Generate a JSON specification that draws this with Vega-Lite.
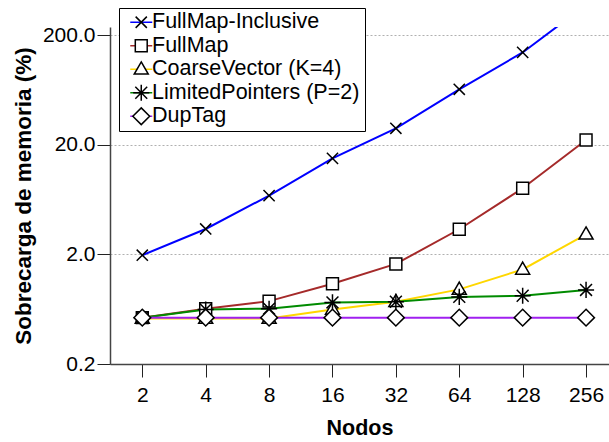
{
  "$schema": "https://vega.github.io/schema/vega-lite/v6.json",
  "width": 499,
  "height": 337,
  "autosize": {"type": "none"},
  "padding": {"left": 110, "top": 27, "right": 0, "bottom": 78},
  "background": "white",
  "config": {
    "view": {"stroke": null},
    "font": "Liberation Sans",
    "axis": {
      "labelFont": "Liberation Sans",
      "titleFont": "Liberation Sans",
      "labelFontSize": 21,
      "titleFontSize": 21.5,
      "titleFontWeight": "bold",
      "labelColor": "black",
      "titleColor": "black",
      "tickSize": 13,
      "tickColor": "#222",
      "domainColor": "#444",
      "domainWidth": 1.5
    }
  },
  "data": {
    "values": [
      {"serie": "FullMap-Inclusive", "nodos": 2, "sobrecarga": 1.97},
      {"serie": "FullMap-Inclusive", "nodos": 4, "sobrecarga": 3.42},
      {"serie": "FullMap-Inclusive", "nodos": 8, "sobrecarga": 6.9},
      {"serie": "FullMap-Inclusive", "nodos": 16, "sobrecarga": 15.1},
      {"serie": "FullMap-Inclusive", "nodos": 32, "sobrecarga": 28.4},
      {"serie": "FullMap-Inclusive", "nodos": 64, "sobrecarga": 64.5},
      {"serie": "FullMap-Inclusive", "nodos": 128, "sobrecarga": 140},
      {"serie": "FullMap-Inclusive", "nodos": 256, "sobrecarga": 380},
      {"serie": "FullMap", "nodos": 2, "sobrecarga": 0.53},
      {"serie": "FullMap", "nodos": 4, "sobrecarga": 0.64},
      {"serie": "FullMap", "nodos": 8, "sobrecarga": 0.75},
      {"serie": "FullMap", "nodos": 16, "sobrecarga": 1.08},
      {"serie": "FullMap", "nodos": 32, "sobrecarga": 1.64},
      {"serie": "FullMap", "nodos": 64, "sobrecarga": 3.4},
      {"serie": "FullMap", "nodos": 128, "sobrecarga": 8.05},
      {"serie": "FullMap", "nodos": 256, "sobrecarga": 22.2},
      {"serie": "CoarseVector (K=4)", "nodos": 2, "sobrecarga": 0.52},
      {"serie": "CoarseVector (K=4)", "nodos": 4, "sobrecarga": 0.52},
      {"serie": "CoarseVector (K=4)", "nodos": 8, "sobrecarga": 0.52},
      {"serie": "CoarseVector (K=4)", "nodos": 16, "sobrecarga": 0.63},
      {"serie": "CoarseVector (K=4)", "nodos": 32, "sobrecarga": 0.74},
      {"serie": "CoarseVector (K=4)", "nodos": 64, "sobrecarga": 0.96},
      {"serie": "CoarseVector (K=4)", "nodos": 128, "sobrecarga": 1.46},
      {"serie": "CoarseVector (K=4)", "nodos": 256, "sobrecarga": 3.06},
      {"serie": "LimitedPointers (P=2)", "nodos": 2, "sobrecarga": 0.53},
      {"serie": "LimitedPointers (P=2)", "nodos": 4, "sobrecarga": 0.63},
      {"serie": "LimitedPointers (P=2)", "nodos": 8, "sobrecarga": 0.64},
      {"serie": "LimitedPointers (P=2)", "nodos": 16, "sobrecarga": 0.73},
      {"serie": "LimitedPointers (P=2)", "nodos": 32, "sobrecarga": 0.74},
      {"serie": "LimitedPointers (P=2)", "nodos": 64, "sobrecarga": 0.82},
      {"serie": "LimitedPointers (P=2)", "nodos": 128, "sobrecarga": 0.84},
      {"serie": "LimitedPointers (P=2)", "nodos": 256, "sobrecarga": 0.95},
      {"serie": "DupTag", "nodos": 2, "sobrecarga": 0.53},
      {"serie": "DupTag", "nodos": 4, "sobrecarga": 0.53},
      {"serie": "DupTag", "nodos": 8, "sobrecarga": 0.53},
      {"serie": "DupTag", "nodos": 16, "sobrecarga": 0.53},
      {"serie": "DupTag", "nodos": 32, "sobrecarga": 0.53},
      {"serie": "DupTag", "nodos": 64, "sobrecarga": 0.53},
      {"serie": "DupTag", "nodos": 128, "sobrecarga": 0.53},
      {"serie": "DupTag", "nodos": 256, "sobrecarga": 0.53}
    ]
  },
  "encoding": {
    "x": {
      "field": "nodos",
      "type": "quantitative",
      "scale": {"type": "log", "base": 2, "domain": [1.405, 329], "nice": false},
      "axis": {
        "title": "Nodos",
        "values": [2, 4, 8, 16, 32, 64, 128, 256],
        "format": "d",
        "grid": false,
        "labelPadding": 7,
        "titlePadding": 12
      }
    },
    "y": {
      "field": "sobrecarga",
      "type": "quantitative",
      "scale": {"type": "log", "domain": [0.2, 239], "nice": false},
      "axis": {
        "title": "Sobrecarga de memoria (%)",
        "titleFontSize": 22.5,
        "values": [0.2, 2, 20, 200],
        "format": ".1f",
        "grid": true,
        "gridColor": "#b0b0b0",
        "gridDash": [2, 2],
        "gridWidth": 1,
        "labelPadding": 2,
        "titlePadding": 7,
        "encode": {"domain": {"update": {"y2": {"scale": "y", "value": 200}}}}
      }
    }
  },
  "layer": [
    {
      "mark": {"type": "line", "strokeWidth": 2, "clip": true},
      "encoding": {
        "color": {
          "field": "serie",
          "type": "nominal",
          "scale": {
            "domain": ["FullMap-Inclusive", "FullMap", "CoarseVector (K=4)", "LimitedPointers (P=2)", "DupTag"],
            "range": ["#0000ff", "#a52a2a", "#ffd700", "#008b00", "#a020f0"]
          },
          "legend": {
            "title": null,
            "orient": "none",
            "legendX": 9,
            "legendY": -19,
            "padding": 3.5,
            "symbolType": "M-1.57,0H1.57",
            "symbolSize": 196,
            "symbolStrokeWidth": 2,
            "symbolOffset": 8,
            "labelFontSize": 21.5,
            "labelFont": "Liberation Sans",
            "labelExpr": "''",
            "labelOffset": 209,
            "labelLimit": 400,
            "rowPadding": 0.5,
            "strokeColor": "black",
            "fillColor": "white"
          }
        }
      }
    },
    {
      "mark": {"type": "point", "filled": true, "fill": "white", "stroke": "black", "opacity": 1, "fillOpacity": 1, "size": 196, "clip": true},
      "encoding": {
        "shape": {
          "field": "serie",
          "type": "nominal",
          "sort": ["FullMap-Inclusive", "FullMap", "CoarseVector (K=4)", "LimitedPointers (P=2)", "DupTag"],
          "scale": {
            "range": [
              "M-0.8,-0.8L0.8,0.8M-0.8,0.8L0.8,-0.8",
              "M-0.85,-0.85H0.85V0.85H-0.85Z",
              "M0,-1.05L1,0.68H-1Z",
              "M0,-1.15V1.15M-1.15,0H1.15M-0.85,-0.85L0.85,0.85M-0.85,0.85L0.85,-0.85",
              "M0,-1.2L1.2,0L0,1.2L-1.2,0Z"
            ]
          },
          "legend": {
            "title": null,
            "orient": "none",
            "legendX": 9,
            "legendY": -19,
            "padding": 3.5,
            "symbolSize": 196,
            "symbolOffset": 8,
            "labelFontSize": 21.5,
            "labelFont": "Liberation Sans",
            "labelColor": "black",
            "labelOffset": 0,
            "labelLimit": 400,
            "rowPadding": 0.5,
            "zindex": 1,
            "encode": {
              "symbols": {
                "update": {
                  "fill": {"value": "white"},
                  "fillOpacity": {"value": 1},
                  "opacity": {"value": 1},
                  "stroke": {"value": "black"},
                  "strokeOpacity": {"value": 1},
                  "strokeWidth": {"scale": "strokeWidth", "field": "value"}
                }
              }
            }
          }
        },
        "strokeWidth": {
          "field": "serie",
          "type": "nominal",
          "scale": {
            "domain": ["FullMap-Inclusive", "FullMap", "CoarseVector (K=4)", "LimitedPointers (P=2)", "DupTag"],
            "range": [1.5, 1.5, 1.3, 2.8, 1.3]
          },
          "legend": null
        }
      }
    }
  ]
}
